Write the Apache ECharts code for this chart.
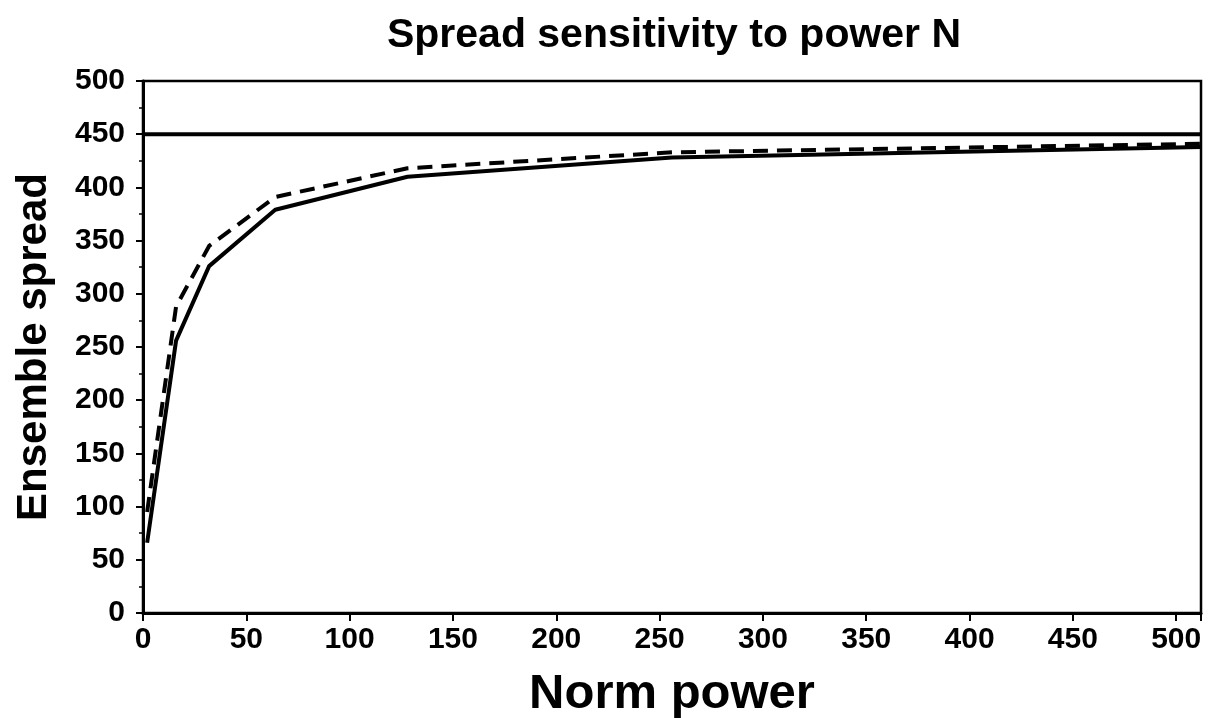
<!DOCTYPE html>
<html>
<head>
<meta charset="utf-8">
<script src="https://cdn.jsdelivr.net/npm/echarts@6/dist/echarts.min.js"></script>
<style>html,body{margin:0;padding:0;background:#fff}#c{width:1212px;height:718px}</style>
</head>
<body>
<div id="c"></div>
<script>
// Data
var normPower = [2, 16, 32, 64, 128, 256, 512];
var spreadSolid = [66, 256, 326, 379, 410, 428, 438];
var spreadDashed = [95, 288, 345, 391, 418, 433, 441];
var referenceLevel = 450;
var referenceX = [0, 512];

function pairs(xs, ys) { return xs.map(function (x, i) { return [x, ys[i]]; }); }

var FONT = '"Liberation Sans", Arial, Helvetica, sans-serif';
var chart = echarts.init(document.getElementById('c'), null, { renderer: 'canvas' });
chart.setOption({
  backgroundColor: '#fff',
  animation: false,
  title: {
    text: 'Spread sensitivity to power N',
    left: 669, textAlign: 'center', top: 10,
    textStyle: { fontFamily: FONT, fontWeight: 'bold', fontSize: 41, color: '#000' }
  },
  grid: { left: 143, right: 11, top: 81, bottom: 105, outerBoundsMode: 'none', containLabel: false,
    show: true, borderColor: '#000', borderWidth: 2.5, backgroundColor: 'transparent' },
  xAxis: {
    type: 'value', min: 0, max: 512, interval: 50,
    name: 'Norm power', nameLocation: 'middle', nameGap: 57,
    nameTextStyle: { fontFamily: FONT, fontWeight: 'bold', fontSize: 49, color: '#000' },
    axisLine: { show: true, lineStyle: { color: '#000', width: 3 } },
    axisTick: { show: true, length: 8, lineStyle: { color: '#000', width: 2 } },
    axisLabel: { fontFamily: FONT, fontWeight: 'bold', fontSize: 30, color: '#000', margin: 12,
      formatter: function (v) { return v % 50 === 0 ? String(v) : ''; } },
    splitLine: { show: false }
  },
  yAxis: {
    type: 'value', min: 0, max: 500, interval: 50,
    name: 'Ensemble spread', nameLocation: 'middle', nameGap: 88,
    nameTextStyle: { fontFamily: FONT, fontWeight: 'bold', fontSize: 42, color: '#000' },
    axisLine: { show: true, lineStyle: { color: '#000', width: 3 } },
    axisTick: { show: true, length: 7, lineStyle: { color: '#000', width: 2 } },
    minorTick: { show: true, splitNumber: 2, length: 4, lineStyle: { color: '#000', width: 1.5 } },
    axisLabel: { fontFamily: FONT, fontWeight: 'bold', fontSize: 30, color: '#000', margin: 18 },
    splitLine: { show: false }
  },
  series: [
    { type: 'line', data: pairs(referenceX, [referenceLevel, referenceLevel]), showSymbol: false,
      lineStyle: { color: '#000', width: 4 } },
    { type: 'line', data: pairs(normPower, spreadDashed), showSymbol: false,
      lineStyle: { color: '#000', width: 4, type: [15, 9] } },
    { type: 'line', data: pairs(normPower, spreadSolid), showSymbol: false,
      lineStyle: { color: '#000', width: 4 } }
  ]
});
</script>
</body>
</html>
